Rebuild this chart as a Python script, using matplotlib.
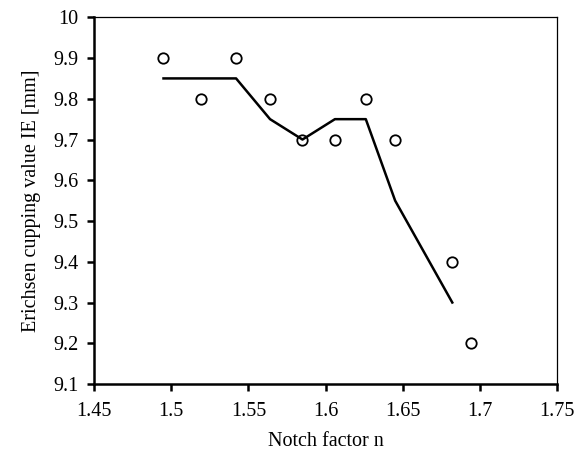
import matplotlib
matplotlib.use("Agg")
import matplotlib.pyplot as plt

notch_factor = [1.495, 1.519, 1.542, 1.564, 1.585, 1.606, 1.626, 1.645, 1.682, 1.694]
cupping_value = [9.9, 9.8, 9.9, 9.8, 9.7, 9.7, 9.8, 9.7, 9.4, 9.2]

trend_x = [1.495, 1.519, 1.542, 1.564, 1.585, 1.606, 1.626, 1.645, 1.682]
trend_y = [9.85, 9.85, 9.85, 9.75, 9.70, 9.75, 9.75, 9.55, 9.30]

x_ticks = [1.45, 1.5, 1.55, 1.6, 1.65, 1.7, 1.75]
x_tick_labels = ["1.45", "1.5", "1.55", "1.6", "1.65", "1.7", "1.75"]
y_ticks = [9.1, 9.2, 9.3, 9.4, 9.5, 9.6, 9.7, 9.8, 9.9, 10.0]
y_tick_labels = ["9.1", "9.2", "9.3", "9.4", "9.5", "9.6", "9.7", "9.8", "9.9", "10"]

plt.rcParams['font.family'] = ['Liberation Serif', 'DejaVu Serif']

fig = plt.figure(figsize=(5.77, 4.51), dpi=100)
ax = fig.add_axes([94/577, 1 - 384/451, (557.3 - 94)/577, (384 - 17.3)/451])

ax.plot(trend_x, trend_y, color='black', linewidth=1.8, zorder=2)
ax.plot(notch_factor, cupping_value, linestyle='none', marker='o', markersize=7.5,
        markerfacecolor='none', markeredgecolor='black', markeredgewidth=1.3, zorder=3)

ax.set_xlim(1.45, 1.75)
ax.set_ylim(9.1, 10.0)
ax.set_xticks(x_ticks)
ax.set_xticklabels(x_tick_labels)
ax.set_yticks(y_ticks)
ax.set_yticklabels(y_tick_labels)

for side in ['left', 'bottom']:
    ax.spines[side].set_linewidth(1.8)
for side in ['top', 'right']:
    ax.spines[side].set_linewidth(0.9)
ax.tick_params(axis='both', direction='out', length=5, width=1.8, labelsize=14.5, pad=6)
ax.tick_params(axis='x', pad=8)

ax.set_xlabel('Notch factor n', fontsize=14.5, labelpad=8)
ax.set_ylabel('Erichsen cupping value IE [mm]', fontsize=14.5, labelpad=9)

fig.savefig('out.png', dpi=100)
